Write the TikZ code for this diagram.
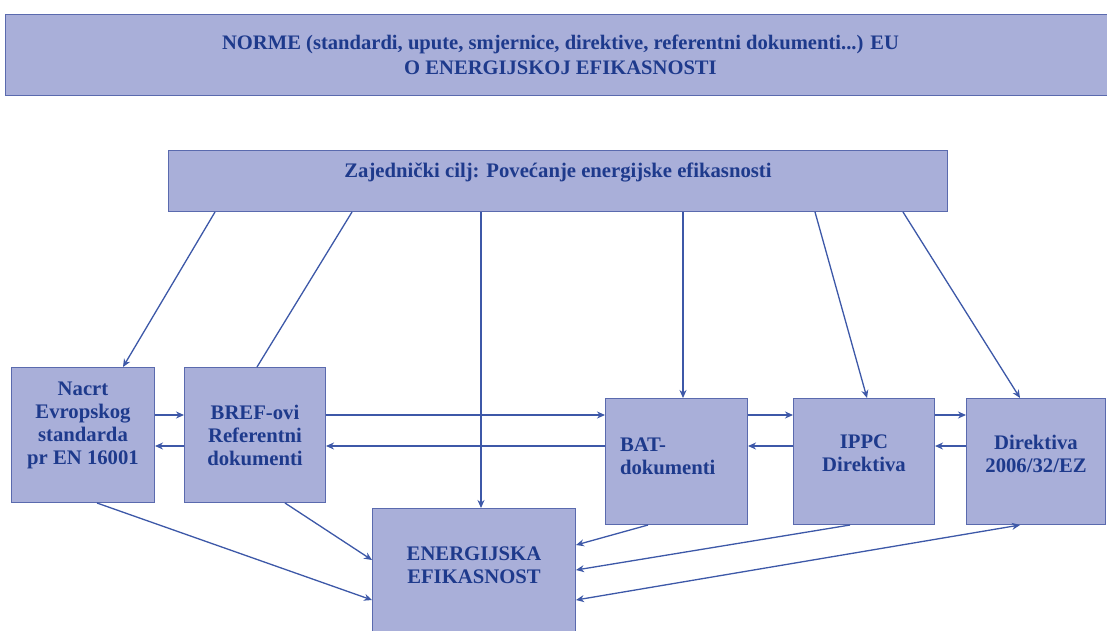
\documentclass[tikz,border=0pt]{standalone}
\usepackage{fontspec}
\setmainfont{Liberation Serif}
\usetikzlibrary{arrows.meta}
\definecolor{boxfill}{HTML}{A9AFD9}
\definecolor{boxline}{HTML}{5A6AAE}
\definecolor{txtblue}{HTML}{1E3A8C}
\definecolor{linblue}{HTML}{3D58A8}
\begin{document}
\begin{tikzpicture}[x=1pt,y=-1pt,
    box/.style={draw=boxline,fill=boxfill,line width=1pt,anchor=north west,
      align=center,inner sep=0pt,text=txtblue,
      font=\fontsize{20.7}{23}\selectfont\bfseries},
    con/.style={draw=linblue,line width=1.3pt},
    arr/.style={con,-{Stealth[length=8pt,width=7pt]}}]
  \useasboundingbox (0,0) rectangle (1107,630);
  \clip (0,0) rectangle (1107,630);
  \fill[white] (0,0) rectangle (1107,630);
  % Top banner and goal
  \node[box,minimum width=1110,minimum height=81,
    font=\fontsize{20.6}{25}\selectfont\bfseries] (norme) at (5,14)
    {NORME (standardi, upute, smjernice, direktive, referentni dokumenti...) EU\\
     O ENERGIJSKOJ EFIKASNOSTI};
  \node[box,minimum width=779,minimum height=61,text depth=22pt] (cilj) at (168,150)
    {Zajednički cilj: Povećanje energijske efikasnosti};
  % Boxes
  \node[box,minimum width=143,minimum height=135,text depth=24pt] (nacrt) at (11,367)
    {Nacrt\\Evropskog\\standarda\\pr EN 16001};
  \node[box,minimum width=141,minimum height=135] (bref) at (184,367)
    {BREF-ovi\\Referentni\\dokumenti};
  \node[box,minimum width=142,minimum height=126,text depth=34pt,
    align=left,text width=127,inner xsep=0pt] (bat) at (605,398)
    {\hspace*{7pt}BAT-\\\hspace*{7pt}dokumenti};
  \node[box,minimum width=141,minimum height=126,text depth=16pt] (ippc) at (793,398)
    {IPPC\\Direktiva};
  \node[box,minimum width=139,minimum height=126,text depth=16pt] (dir) at (966,398)
    {Direktiva\\2006/32/EZ};
  \node[box,minimum width=203,minimum height=140,text depth=26pt] (ee) at (372,508)
    {ENERGIJSKA\\EFIKASNOST};
  % From the goal down
  \draw[arr] ([xshift=47]cilj.south west) -- ([xshift=112]nacrt.north west);
  \draw[con] ([xshift=73]bref.north west) -- ([xshift=184]cilj.south west);
  \draw[arr] ([xshift=313]cilj.south west) -- ([xshift=313]cilj.south west |- ee.north);
  \draw[arr] ([xshift=515]cilj.south west) -- ([xshift=515]cilj.south west |- bat.north);
  \draw[arr] ([xshift=647]cilj.south west) -- ([xshift=74]ippc.north west);
  \draw[arr] ([xshift=735]cilj.south west) -- ([xshift=54]dir.north west);
  % Row links
  \draw[arr] ([yshift=-48]nacrt.north east) -- ([yshift=-48]nacrt.north east -| bref.west);
  \draw[arr] ([yshift=-79]bref.north west) -- ([yshift=-79]bref.north west -| nacrt.east);
  \draw[arr] ([yshift=-48]bref.north east) -- ([yshift=-48]bref.north east -| bat.west);
  \draw[arr] ([yshift=-48]bat.north west) -- ([yshift=-48]bat.north west -| bref.east);
  \draw[arr] ([yshift=-17]bat.north east) -- ([yshift=-17]bat.north east -| ippc.west);
  \draw[arr] ([yshift=-48]ippc.north west) -- ([yshift=-48]ippc.north west -| bat.east);
  \draw[arr] ([yshift=-17]ippc.north east) -- ([yshift=-17]ippc.north east -| dir.west);
  \draw[arr] ([yshift=-48]dir.north west) -- ([yshift=-48]dir.north west -| ippc.east);
  % Into ENERGIJSKA EFIKASNOST
  \draw[arr] ([xshift=86]nacrt.south west) -- ([yshift=-92]ee.north west);
  \draw[arr] ([xshift=101]bref.south west) -- ([yshift=-52]ee.north west);
  \draw[arr] ([xshift=43]bat.south west) -- ([yshift=-37]ee.north east);
  \draw[arr] ([xshift=57]ippc.south west) -- ([yshift=-62]ee.north east);
  \draw[arr,{Stealth[length=8pt,width=7pt]}-{Stealth[length=8pt,width=7pt]}]
    ([xshift=54]dir.south west) -- ([yshift=-92]ee.north east);
\end{tikzpicture}
\end{document}
